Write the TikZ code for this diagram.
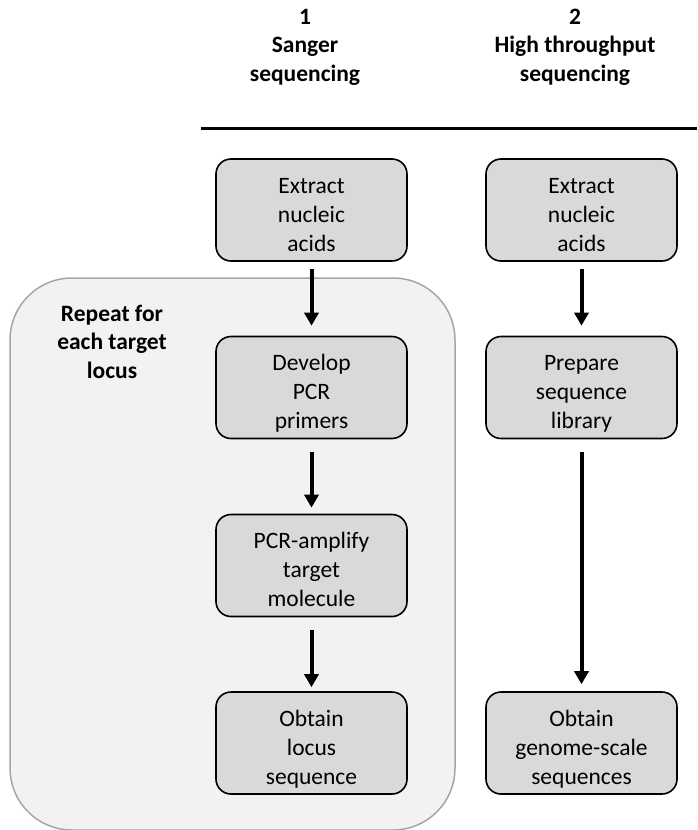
\documentclass[tikz,border=0pt]{standalone}
\usepackage{fontspec}
\setmainfont{Carlito}
\usetikzlibrary{arrows.meta}
\definecolor{boxfill}{HTML}{D9D9D9}
\definecolor{panelfill}{HTML}{F2F2F2}
\definecolor{panelline}{HTML}{A6A6A6}
\begin{document}
\begin{tikzpicture}[x=1pt,y=-1pt,
  stepbox/.style={draw=black, line width=1.6pt, fill=boxfill, rounded corners=15pt,
    minimum width=191pt, minimum height=102pt, align=center, inner sep=0pt,
    font=\fontsize{23.5}{29}\selectfont, text height=84pt, text depth=2pt},
  heading/.style={align=center, anchor=base, inner sep=0pt,
    font=\fontsize{23.5}{28.3}\selectfont\bfseries},
  flow/.style={-{Triangle[width=14pt,length=13pt]}, line width=4pt},
]
\useasboundingbox (0,0) rectangle (697,830);

% shaded panel grouping the steps repeated per locus
\path[draw=panelline, line width=1.5pt, fill=panelfill, rounded corners=62pt]
  (10,278) rectangle (455,830);

% column headings and rule (anchored at the last line's baseline)
\node[heading] (c1) at (305,81) {1\\Sanger\\sequencing};
\node[heading] (c2) at (575,81) {2\\High throughput\\sequencing};
\coordinate (ruleL) at (201,128);
\coordinate (ruleR) at (697,128);
\draw[line width=3pt] (ruleL) -- (ruleR);

\node[heading] (rep) at (112,378) {Repeat for\\each target\\locus};

% Sanger workflow
\node[stepbox] (s1) at (311.5,210)   {Extract\\nucleic\\acids};
\node[stepbox] (s2) at (311.5,387.5) {Develop\\PCR\\primers};
\node[stepbox] (s3) at (311.5,565.5) {PCR-amplify\\target\\molecule};
\node[stepbox] (s4) at (311.5,743)   {Obtain\\locus\\sequence};

% high throughput workflow
\node[stepbox] (h1) at (581.5,210)   {Extract\\nucleic\\acids};
\node[stepbox] (h2) at (581.5,387.5) {Prepare\\sequence\\library};
\node[stepbox] (h4) at (581.5,743)   {Obtain\\genome-scale\\sequences};

\draw[flow, shorten <=7pt, shorten >=10pt] (s1) -- (s2);
\draw[flow, shorten <=13pt, shorten >=6pt] (s2) -- (s3);
\draw[flow, shorten <=13pt, shorten >=4pt] (s3) -- (s4);
\draw[flow, shorten <=7pt, shorten >=10pt] (h1) -- (h2);
\draw[flow, shorten <=13pt, shorten >=7pt] (h2) -- (h4);
\end{tikzpicture}
\end{document}
